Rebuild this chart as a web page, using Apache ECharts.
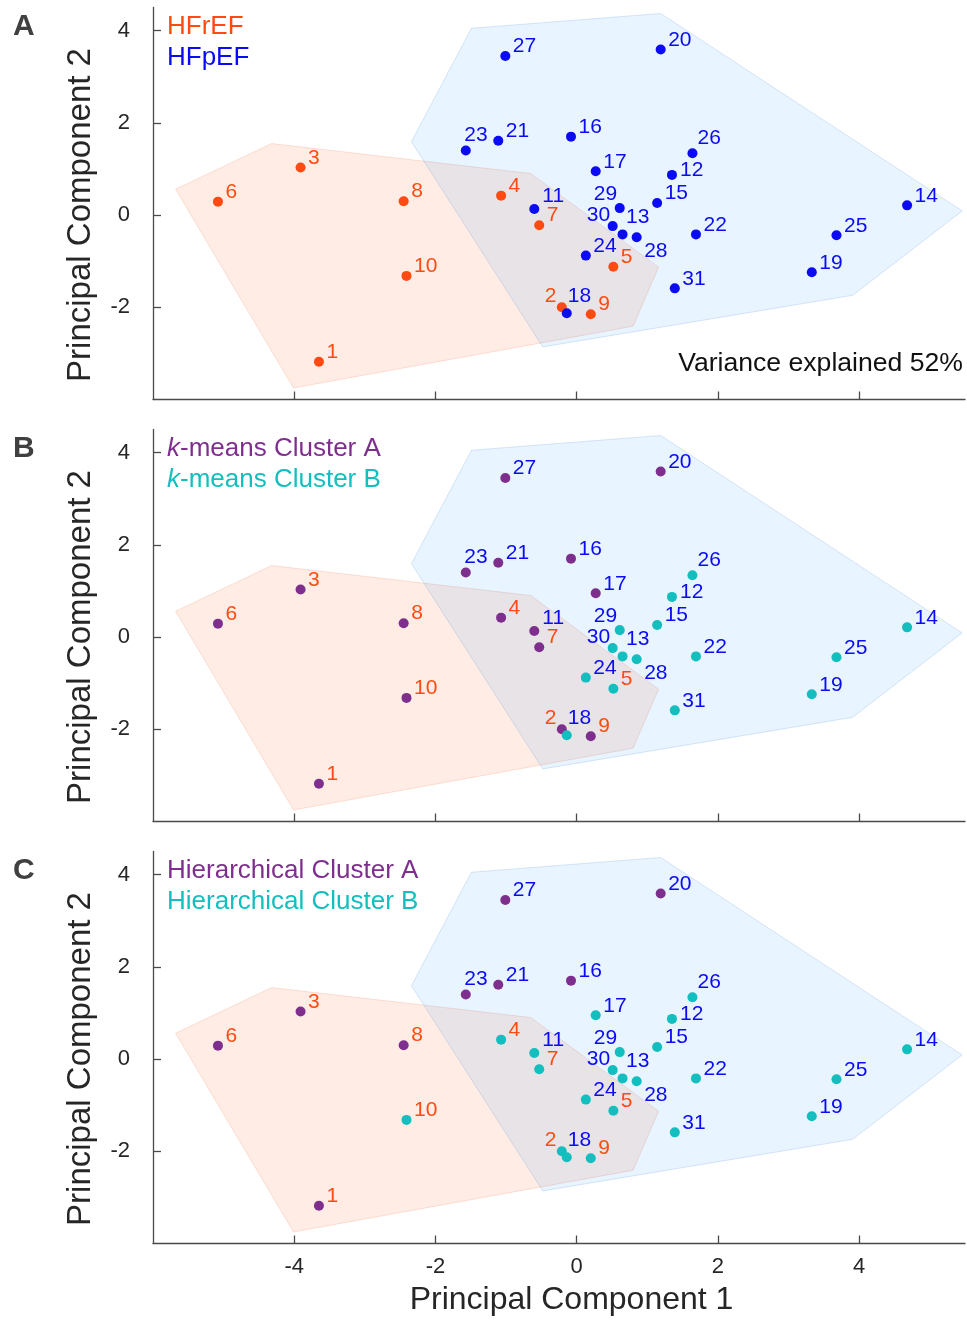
<!DOCTYPE html>
<html>
<head>
<meta charset="utf-8">
<script src="https://cdn.jsdelivr.net/npm/echarts@6/dist/echarts.min.js"></script>
<style>
html,body{margin:0;padding:0;background:#fff;}
#chart{width:967px;height:1320px;}
</style>
</head>
<body>
<div id="chart"></div>
<script>
// ---------------- data ----------------
const ids = [1,2,3,4,5,6,7,8,9,10,11,12,13,14,15,16,17,18,19,20,21,22,23,24,25,26,27,28,29,30,31];
const pc1 = [-3.65,-0.21,-3.91,-1.07,0.52,-5.08,-0.53,-2.45,0.20,-2.41,-0.60,1.35,0.65,4.68,1.14,-0.08,0.27,-0.14,3.33,1.19,-1.11,1.69,-1.57,0.13,3.68,1.64,-1.01,0.85,0.61,0.51,1.39];
const pc2 = [-3.18,-2.00,1.03,0.42,-1.12,0.29,-0.22,0.30,-2.15,-1.32,0.13,0.87,-0.42,0.21,0.26,1.70,0.95,-2.13,-1.24,3.59,1.61,-0.42,1.40,-0.88,-0.44,1.34,3.45,-0.48,0.15,-0.24,-1.59];
const hfGroup = ['HFrEF','HFrEF','HFrEF','HFrEF','HFrEF','HFrEF','HFrEF','HFrEF','HFrEF','HFrEF',
  'HFpEF','HFpEF','HFpEF','HFpEF','HFpEF','HFpEF','HFpEF','HFpEF','HFpEF','HFpEF','HFpEF',
  'HFpEF','HFpEF','HFpEF','HFpEF','HFpEF','HFpEF','HFpEF','HFpEF','HFpEF','HFpEF'];
const kmeansCluster = ['A','A','A','A','B','A','A','A','A','A','A','B','B','B','B','A','A','B','B','A','A','B','A','B','B','B','A','B','B','B','B'];
const hierCluster   = ['A','B','A','B','B','A','B','A','B','B','B','B','B','B','B','A','B','B','B','A','A','B','A','B','B','B','A','B','B','B','B'];
const hullHFrEF = [[-5.68,0.56],[-4.32,1.55],[-0.65,0.90],[1.16,-1.13],[0.80,-2.41],[-4.01,-3.75]];
const hullHFpEF = [[-1.49,4.05],[1.19,4.37],[5.46,0.09],[3.91,-1.74],[-0.48,-2.86],[-2.34,1.59]];
const xTicks = [-4,-2,0,2,4];
const yTicks = [-2,0,2,4];
const xTitle = 'Principal Component 1';
const yTitle = 'Principal Component 2';
const varianceText = 'Variance explained 52%';

// ---------------- styles ----------------
const ORANGE = '#FF4B12';
const BLUE = '#0A0AF5';
const PURPLE = '#7E2F8E';
const CYAN = '#12BEBE';
const AXIS = '#4a4a4a';
const TEXT = '#262626';
const FONT = '"Liberation Sans", Arial, Helvetica, sans-serif';
const gridTops = [7.5, 429.5, 851.5];
const GRID_H = 392;

// label placement tweaks (style only)
const labelTweaks = {
  29: {align:'right', offset:[-2.5,-14]},
  30: {align:'right', offset:[-2.5,-11]},
  2:  {align:'right', offset:[-5.5,-11]},
  13: {align:'left', offset:[3.5,-17]},
  18: {align:'left', offset:[1,-17]},
  23: {align:'left', offset:[-1.5,-15.5]},
  26: {align:'left', offset:[5,-15]},
  28: {align:'left', offset:[7.5,14.5]},
  12: {align:'left', offset:[8,-5]},
  11: {align:'left', offset:[8,-12.5]}
};
const defaultLabel = {align:'left', offset:[7.5,-9.5]};

const panels = [
  {groups: hfGroup, order:['HFrEF','HFpEF'], colors:{HFrEF:ORANGE, HFpEF:BLUE},
   legend:[{text:'HFrEF', color:ORANGE},{text:'HFpEF', color:BLUE}], letter:'A'},
  {groups: kmeansCluster, order:['A','B'], colors:{A:PURPLE, B:CYAN},
   legend:[{text:'{i|k}-means Cluster A', color:PURPLE},{text:'{i|k}-means Cluster B', color:CYAN}], letter:'B'},
  {groups: hierCluster, order:['A','B'], colors:{A:PURPLE, B:CYAN},
   legend:[{text:'Hierarchical Cluster A', color:PURPLE},{text:'Hierarchical Cluster B', color:CYAN}], letter:'C'}
];

const grids = [], xAxes = [], yAxes = [], series = [], graphics = [];

function hullSeries(hull, gi, fill, stroke, z) {
  return {
    type:'custom', xAxisIndex:gi, yAxisIndex:gi, z:z, silent:true, clip:false,
    data: hull,
    renderItem: function (params, api) {
      if (params.dataIndex !== 0) return null;
      const pts = hull.map(p => api.coord(p));
      return {type:'polygon', shape:{points:pts}, style:{fill:fill, stroke:stroke, lineWidth:1}};
    }
  };
}

panels.forEach((p, gi) => {
  grids.push({left:153, right:2, top:gridTops[gi], height:GRID_H, containLabel:false});
  const lastPanel = gi === 2;
  xAxes.push({
    gridIndex:gi, type:'value', min:-6, max:5.5,
    axisLine:{show:true, onZero:false, lineStyle:{color:AXIS, width:1.3}},
    axisTick:{show:true, inside:true, length:8, customValues:xTicks, lineStyle:{color:AXIS, width:1.3}},
    axisLabel:{show:lastPanel, customValues:xTicks, margin:12, fontSize:22, color:TEXT, fontFamily:FONT},
    splitLine:{show:false}
  });
  yAxes.push({
    gridIndex:gi, type:'value', min:-4, max:4.5,
    axisLine:{show:true, onZero:false, lineStyle:{color:AXIS, width:1.3}},
    axisTick:{show:true, inside:true, length:8, customValues:yTicks, lineStyle:{color:AXIS, width:1.3}},
    axisLabel:{show:true, customValues:yTicks, margin:23, fontSize:22, color:TEXT, fontFamily:FONT},
    splitLine:{show:false}
  });

  series.push(hullSeries(hullHFrEF, gi, 'rgba(255,77,0,0.10)', 'rgba(230,90,30,0.16)', 1));
  series.push(hullSeries(hullHFpEF, gi, 'rgba(0,128,255,0.09)', 'rgba(0,90,200,0.14)', 2));

  p.order.forEach(g => {
    const items = [];
    ids.forEach((id, i) => {
      if (p.groups[i] !== g) return;
      const tw = labelTweaks[id] || defaultLabel;
      items.push({
        value:[pc1[i], pc2[i], id],
        label:{color: hfGroup[i] === 'HFrEF' ? ORANGE : BLUE, align:tw.align, verticalAlign:'middle', offset:tw.offset}
      });
    });
    series.push({
      type:'scatter', xAxisIndex:gi, yAxisIndex:gi, z:3,
      symbol:'circle', symbolSize:10,
      itemStyle:{color:p.colors[g], opacity:1},
      label:{show:true, position:'inside', formatter: q => String(q.value[2]), fontSize:21, fontFamily:FONT},
      emphasis:{disabled:true},
      data: items
    });
  });

  const top = gridTops[gi];
  // y axis title
  graphics.push({type:'text', x:81, y:top + 207.5, rotation:Math.PI/2, style:{
    text:yTitle, fill:TEXT, font:'33px ' + FONT, align:'center', verticalAlign:'middle'}});
  // panel letter
  graphics.push({type:'text', left:13, top: top + 4, style:{text:p.letter, font:'bold 30px ' + FONT, fill:'#404040'}});
  // legend texts
  const legY = [top + 19.5, top + 50];
  p.legend.forEach((l, k) => {
    graphics.push({type:'text', x:167, y:legY[k], style:{
      text:l.text, fill:l.color, font:'26px ' + FONT, verticalAlign:'middle', align:'left',
      rich:{i:{fontStyle:'italic', fill:l.color, fontSize:26, fontFamily:FONT}}
    }});
  });
});

graphics.push({type:'text', x:571.5, y:1300, style:{text:xTitle, fill:TEXT, font:'32px ' + FONT, align:'center', verticalAlign:'middle'}});
graphics.push({type:'text', x:963, y:363.5, style:{text:varianceText, fill:'#111', font:'26.6px ' + FONT, align:'right', verticalAlign:'middle'}});

const chart = echarts.init(document.getElementById('chart'), null, {renderer:'canvas'});
chart.setOption({
  animation:false,
  backgroundColor:'#ffffff',
  textStyle:{fontFamily:FONT},
  grid:grids, xAxis:xAxes, yAxis:yAxes, series:series, graphic:graphics
});
</script>
</body>
</html>
